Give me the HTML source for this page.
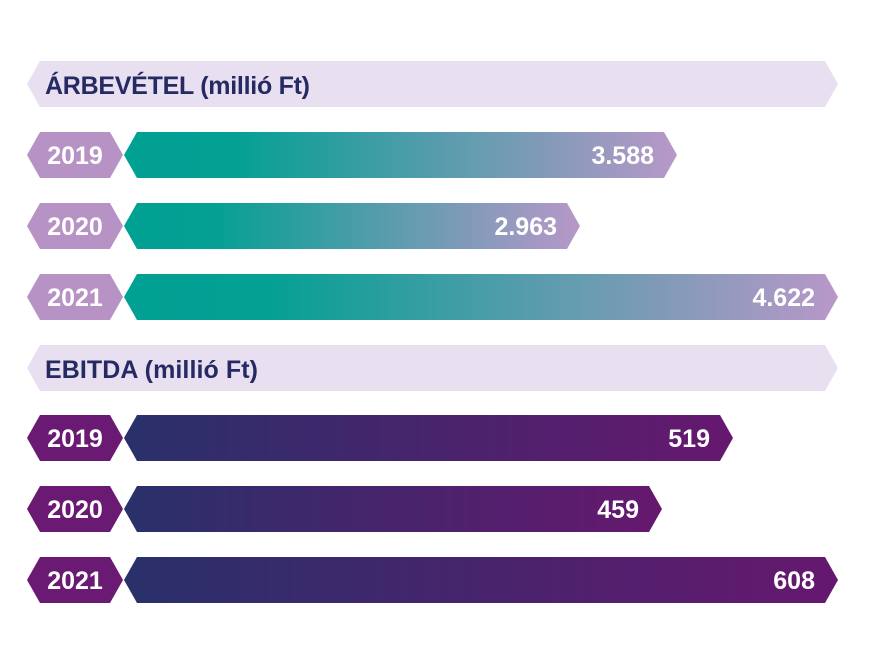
<!DOCTYPE html>
<html><head><meta charset="utf-8"><style>
body{margin:0;background:#fff;}
text{font-family:"Liberation Sans",sans-serif;font-weight:bold;}
</style></head><body>
<svg width="876" height="661" xmlns="http://www.w3.org/2000/svg">
<defs>
<linearGradient id="g1" x1="0" x2="1" y1="0" y2="0"><stop offset="0" stop-color="#00a093"/><stop offset="0.2" stop-color="#04a094"/><stop offset="1" stop-color="#b898c8"/></linearGradient>
<linearGradient id="g2" x1="0" x2="1" y1="0" y2="0"><stop offset="0" stop-color="#29306a"/><stop offset="1" stop-color="#66186f"/></linearGradient>
</defs>
<polygon points="27,84 40,61 825,61 838,84 825,107 40,107" fill="#e8e0f0"/>
<text x="45" y="94" font-size="25" fill="#262a63" textLength="265">ÁRBEVÉTEL (millió Ft)</text>
<polygon points="27,368 40,345 825,345 838,368 825,391 40,391" fill="#e8e0f0"/>
<text x="45" y="378" font-size="25" fill="#262a63" textLength="213">EBITDA (millió Ft)</text>

<g font-size="25" fill="#fff">
<polygon points="27,155 40,132 110,132 123,155 110,178 40,178" fill="#b793c5"/>
<text x="75" y="164" text-anchor="middle">2019</text>
<polygon points="124,155 137,132 664,132 677,155 664,178 137,178" fill="url(#g1)"/>
<text x="654" y="164" text-anchor="end">3.588</text>

<polygon points="27,226 40,203 110,203 123,226 110,249 40,249" fill="#b793c5"/>
<text x="75" y="235" text-anchor="middle">2020</text>
<polygon points="124,226 137,203 567,203 580,226 567,249 137,249" fill="url(#g1)"/>
<text x="557" y="235" text-anchor="end">2.963</text>

<polygon points="27,297 40,274 110,274 123,297 110,320 40,320" fill="#b793c5"/>
<text x="75" y="306" text-anchor="middle">2021</text>
<polygon points="124,297 137,274 825,274 838,297 825,320 137,320" fill="url(#g1)"/>
<text x="815" y="306" text-anchor="end">4.622</text>

<polygon points="27,438 40,415 110,415 123,438 110,461 40,461" fill="#6a1a72"/>
<text x="75" y="447" text-anchor="middle">2019</text>
<polygon points="124,438 137,415 720,415 733,438 720,461 137,461" fill="url(#g2)"/>
<text x="710" y="447" text-anchor="end">519</text>

<polygon points="27,509 40,486 110,486 123,509 110,532 40,532" fill="#6a1a72"/>
<text x="75" y="518" text-anchor="middle">2020</text>
<polygon points="124,509 137,486 649,486 662,509 649,532 137,532" fill="url(#g2)"/>
<text x="639" y="518" text-anchor="end">459</text>

<polygon points="27,580 40,557 110,557 123,580 110,603 40,603" fill="#6a1a72"/>
<text x="75" y="589" text-anchor="middle">2021</text>
<polygon points="124,580 137,557 825,557 838,580 825,603 137,603" fill="url(#g2)"/>
<text x="815" y="589" text-anchor="end">608</text>
</g>
</svg>
</body></html>
